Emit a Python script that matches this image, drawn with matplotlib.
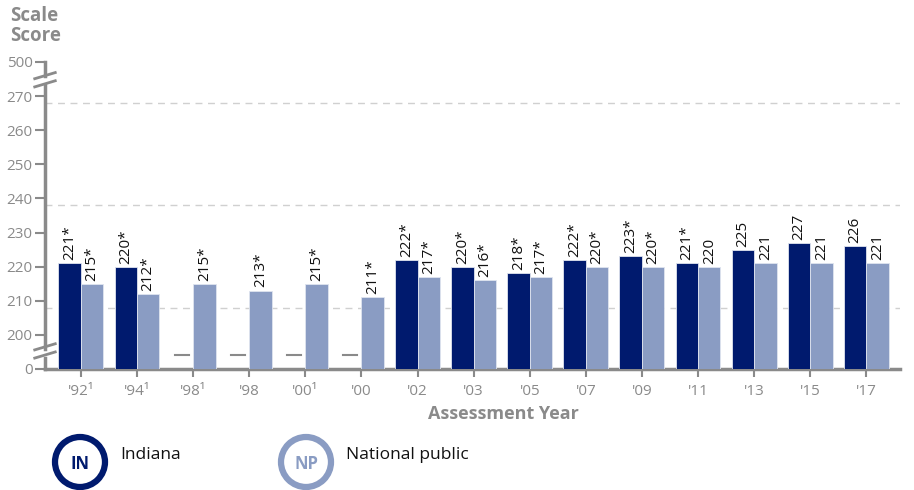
import numpy as np
import matplotlib.pyplot as plt
from matplotlib.patches import Circle
from matplotlib.transforms import blended_transform_factory

plt.rcParams['font.family'] = ['Open Sans', 'DejaVu Sans']

years = ["'92\u00b9", "'94\u00b9", "'98\u00b9", "'98", "'00\u00b9", "'00", "'02", "'03",
         "'05", "'07", "'09", "'11", "'13", "'15", "'17"]
indiana = [221, 220, None, None, None, None, 222, 220, 218, 222, 223, 221, 225, 227, 226]
indiana_lbl = ["221*", "220*", "", "", "", "", "222*", "220*", "218*", "222*", "223*", "221*",
               "225", "227", "226"]
national = [215, 212, 215, 213, 215, 211, 217, 216, 217, 220, 220, 220, 221, 221, 221]
national_lbl = ["215*", "212*", "215*", "213*", "215*", "211*", "217*", "216*", "217*",
                "220*", "220*", "220", "221", "221", "221"]

# axis values shown on the broken scale: label -> plotted position
ytick_labels = ["0", "200", "210", "220", "230", "240", "250", "260", "270", "500"]
ytick_pos = [190, 200, 210, 220, 230, 240, 250, 260, 270, 280]
grid_pos = [208, 238, 268]

c_in = '#001a6e'
c_np = '#8a9cc3'
grey = '#8a8a8a'
base = 190

fig = plt.figure(figsize=(9.14, 4.9), dpi=100)
ax = fig.add_axes([45/914, 1-369/490, (900-45)/914, (369-62)/490])
ax.set_xlim(-0.64, 14.6)
ax.set_ylim(190, 280)

x = np.arange(len(years))
w = 0.4
for i in range(len(years)):
    if indiana[i] is not None:
        ax.bar(x[i]-w/2, indiana[i]-base, w, bottom=base, color=c_in, edgecolor='#dfe4ef',
               linewidth=0.6, zorder=3)
        ax.text(x[i]-w/2, indiana[i]+0.9, indiana_lbl[i], rotation=90, ha='center', va='bottom',
                fontsize=11, color='#111111')
    else:
        ax.plot([x[i]-w/2-0.12, x[i]-w/2+0.12], [194, 194], color=grey, lw=1.5, zorder=3)
    ax.bar(x[i]+w/2, national[i]-base, w, bottom=base, color=c_np, edgecolor='#dfe4ef',
           linewidth=0.6, zorder=3)
    ax.text(x[i]+w/2, national[i]+0.9, national_lbl[i], rotation=90, ha='center', va='bottom',
            fontsize=11, color='#111111')

for g in grid_pos:
    ax.axhline(g, color='#d0d0d0', lw=1, ls=(0, (5, 4)), zorder=1)

for s in ['top', 'right', 'left']:
    ax.spines[s].set_visible(False)
ax.spines['bottom'].set_color(grey)
ax.spines['bottom'].set_linewidth(2.5)

ax.set_xticks(x)
ax.set_xticklabels(years, fontsize=11, color=grey)
ax.tick_params(axis='x', length=6, width=1.5, color=grey, pad=5)
ax.set_yticks(ytick_pos)
ax.set_yticklabels(ytick_labels, fontsize=11, color=grey)
ax.tick_params(axis='y', length=7, width=1.5, color=grey, pad=2)

# broken left axis
tr = blended_transform_factory(ax.transAxes, ax.transData)
for y0, y1 in [(190, 193.3), (195.8, 273.3), (276.0, 280)]:
    ax.plot([0, 0], [y0, y1], color=grey, lw=2.5, transform=tr, clip_on=False, zorder=4)
for yb in [194.1, 196.5, 273.6, 276.0]:
    ax.plot([-0.012, 0.012], [yb-0.9, yb+0.9], color=grey, lw=2, transform=tr, clip_on=False,
            zorder=4)

fig.text(10/914, 1-16/490, 'Scale', fontsize=13.5, fontweight='bold', color=grey, va='center')
fig.text(10/914, 1-36/490, 'Score', fontsize=13.5, fontweight='bold', color=grey, va='center')
fig.text(503/914, 1-414/490, 'Assessment Year', fontsize=13, fontweight='bold', color=grey,
         ha='center', va='center')

# legend drawn in pixel space
lg = fig.add_axes([0, 0, 1, 1])
lg.set_xlim(0, 914)
lg.set_ylim(490, 0)
lg.axis('off')
for cx, col, abbr, name in [(80, c_in, 'IN', 'Indiana'), (306, c_np, 'NP', 'National public')]:
    lg.add_patch(Circle((cx, 462), 25, facecolor='white', edgecolor=col, lw=4.5))
    lg.text(cx, 464, abbr, ha='center', va='center', fontsize=12, fontweight='bold', color=col)
    lg.text(cx+40, 455, name, ha='left', va='center', fontsize=12.5, color='#111111')

fig.savefig('out.png', dpi=100)
